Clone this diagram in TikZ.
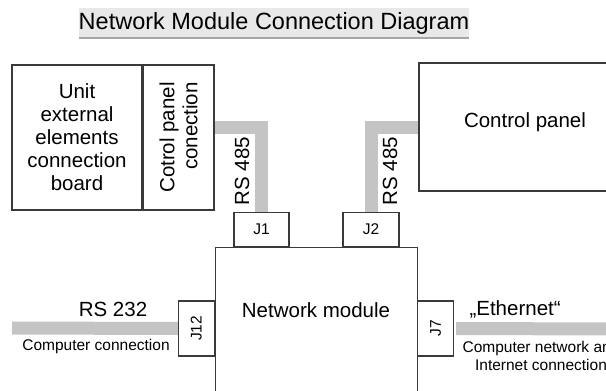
\documentclass[tikz,border=0pt]{standalone}
\usepackage{fontspec}
\setmainfont{Liberation Sans}
\usetikzlibrary{positioning}
\definecolor{LineGray}{HTML}{3A3A3A}
\definecolor{CableGray}{HTML}{C4C4C4}
\definecolor{TitleGray}{HTML}{E8E8E8}
\begin{document}
\begin{tikzpicture}[
  x=1pt,y=-1pt,
  every node/.style={align=center,font=\fontsize{20.5}{23}\selectfont},
  box/.style={draw=LineGray,line width=1.2pt,fill=white,inner sep=0pt},
  port/.style={draw=LineGray,line width=1.2pt,fill=white,inner sep=0pt,font=\fontsize{15.5}{17}\selectfont},
  cable/.style={draw=CableGray,line width=13pt},
  small/.style={font=\fontsize{15.5}{17.5}\selectfont}
]
\useasboundingbox (0,0) rectangle (606,391);
\clip (0,0) rectangle (606,391);
\node[fill=TitleGray,minimum width=382,minimum height=30,inner sep=0pt,font=\fontsize{23.5}{27}\selectfont] (title) at (274,23) {Network Module Connection Diagram};
\draw[gray!70,line width=2pt] (title.south west) -- (title.south east);
\node[box,minimum width=130,minimum height=145] (ueb) at (77,137.5) {Unit\\external\\elements\\connection\\board};
\node[box,rotate=90,minimum width=145,minimum height=71,align=right] (cpc) at (178.5,137.5) {Cotrol panel\\conection};
\node[box,minimum width=212,minimum height=128] (cp) at (525,127) {};
\node (cplbl) at (525,122) {Control panel};
\node[box,minimum width=202,minimum height=160,anchor=north west] (nm) at (215,247) {};
\node (nmlbl) at (316,310) {Network module};
\node[port,minimum width=55,minimum height=34,anchor=south] (j1) at (261.5,247) {J1};
\node[port,minimum width=56,minimum height=34,anchor=south] (j2) at (371,247) {J2};
\node[port,rotate=90,minimum width=55,minimum height=36,anchor=south] (j12) at (215,328.5) {J12};
\node[port,rotate=90,minimum width=55,minimum height=36,anchor=north] (j7) at (417,328.5) {J7};
\coordinate (pc) at (12,328);
\coordinate (lan) at (612,329);
\draw[cable] (cpc.south |- cp.west) -| (j1.north);
\draw[cable] (cp.west) -| (j2.north);
\draw[cable] (j12.north) -- (pc);
\draw[cable] ([xshift=2pt]j7.south) -- (lan);
\node[rotate=90] (rs1) at (242,171) {RS 485};
\node[rotate=90] (rs2) at (390,171) {RS 485};
\node (rs232) at (113,309) {RS 232};
\node[small] (pclbl) at (96,346) {Computer connection};
\node[anchor=west] (eth) at (466,309) {„Ethernet“};
\node[small] (lanlbl) at (541,356) {Computer network and\\Internet connection};
\end{tikzpicture}
\end{document}
